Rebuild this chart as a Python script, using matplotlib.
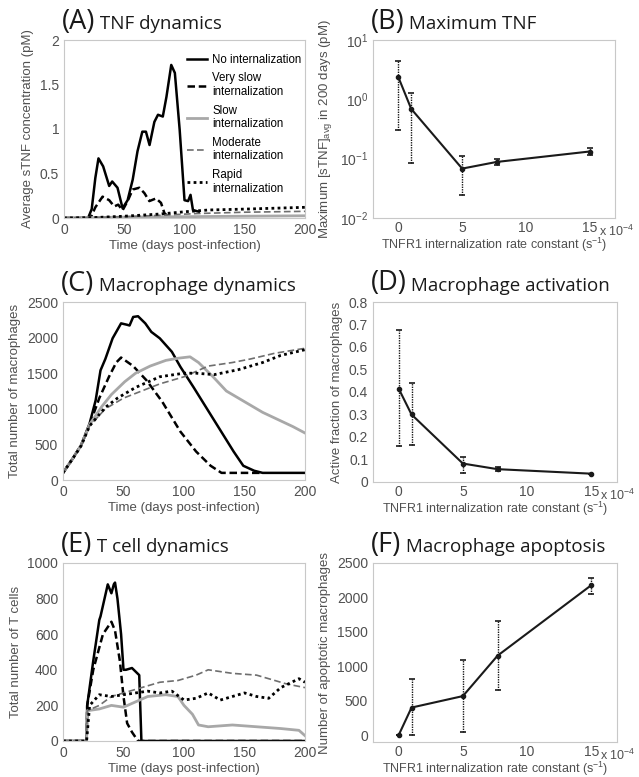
import matplotlib
matplotlib.use("Agg")
import matplotlib.pyplot as plt
import numpy as np

# ---------------- data ----------------
# (A) average sTNF concentration, pM
tnf_none_t = [0, 20, 23, 26, 28.6, 32.5, 37.5, 40, 44.4, 48.6, 52.8, 57, 61, 65, 68, 71, 75, 78, 82, 85, 89, 92, 96, 100, 103, 105, 107, 112]
tnf_none_y = [0, 0, 0.1, 0.45, 0.67, 0.58, 0.36, 0.41, 0.34, 0.11, 0.2, 0.43, 0.75, 0.97, 0.97, 0.82, 1.08, 1.16, 1.14, 1.36, 1.72, 1.63, 0.99, 0.2, 0.19, 0.26, 0.09, 0.07]
tnf_vslow_t = [0, 22, 26, 32, 37.5, 41.7, 45, 48.6, 52.8, 57, 62.5, 66.7, 70.8, 76.4, 80.5, 83.3, 86, 90, 110]
tnf_vslow_y = [0, 0, 0.12, 0.24, 0.2, 0.13, 0.15, 0.086, 0.19, 0.32, 0.34, 0.28, 0.19, 0.22, 0.17, 0.056, 0.02, 0.005, 0.0]
tnf_slow_t = [0, 25, 50, 100, 150, 200]
tnf_slow_y = [0, 0.005, 0.01, 0.015, 0.02, 0.025]
tnf_mod_t = [0, 25, 50, 80, 110, 150, 200]
tnf_mod_y = [0, 0.005, 0.015, 0.03, 0.05, 0.065, 0.075]
tnf_rapid_t = [0, 25, 50, 80, 100, 120, 150, 200]
tnf_rapid_y = [0, 0.005, 0.02, 0.045, 0.07, 0.09, 0.1, 0.12]

# (C) total macrophages
mac_none_t = [0, 8, 15, 22, 27, 31, 35, 41, 48, 53, 55, 58, 62, 68, 73, 80, 90, 97, 108, 119, 130, 141, 149, 158, 165, 200]
mac_none_y = [100, 300, 490, 795, 1120, 1540, 1700, 1990, 2200, 2180, 2170, 2290, 2300, 2200, 2080, 1990, 1800, 1590, 1300, 1000, 700, 400, 200, 130, 100, 100]
mac_vslow_t = [0, 8, 15, 22, 30, 38, 44, 48, 58, 69, 82, 97, 110, 122, 131, 165]
mac_vslow_y = [100, 300, 490, 780, 1150, 1450, 1650, 1720, 1600, 1400, 1100, 680, 400, 200, 100, 100]
mac_slow_t = [0, 8, 15, 22, 32, 40, 51, 60, 72, 85, 95, 105, 112, 124, 135, 150, 165, 180, 190, 200]
mac_slow_y = [100, 300, 490, 780, 1030, 1200, 1380, 1500, 1600, 1680, 1710, 1730, 1650, 1450, 1250, 1100, 950, 830, 750, 660]
mac_mod_t = [0, 8, 15, 22, 35, 50, 65, 80, 100, 120, 140, 155, 175, 200]
mac_mod_y = [100, 300, 480, 760, 1000, 1150, 1250, 1350, 1450, 1600, 1650, 1700, 1780, 1850]
mac_rapid_t = [0, 8, 15, 22, 35, 45, 60, 80, 100, 110, 125, 145, 165, 180, 200]
mac_rapid_y = [100, 300, 480, 760, 1020, 1150, 1300, 1450, 1500, 1500, 1480, 1550, 1650, 1750, 1830]

# (E) total T cells
tc_none_t = [0, 19.5, 20, 25, 30, 31, 36, 37, 40, 42, 43, 45, 48, 50, 52, 57, 60, 63, 64.8, 200]
tc_none_y = [0, 0, 200, 450, 680, 700, 850, 880, 830, 880, 890, 800, 600, 400, 400, 410, 390, 370, 0, 0]
tc_vslow_t = [0, 19.5, 20, 25, 33, 37, 40, 43, 47, 50, 53, 57, 60, 62, 200]
tc_vslow_y = [0, 0, 200, 400, 600, 640, 670, 620, 450, 250, 100, 50, 20, 0, 0]
tc_slow_t = [0, 19.5, 20, 30, 40, 50, 60, 70, 85, 95, 100, 107, 112, 120, 140, 160, 180, 195, 200]
tc_slow_y = [0, 0, 170, 180, 200, 190, 220, 250, 260, 250, 200, 150, 90, 80, 90, 80, 70, 60, 30]
tc_mod_t = [0, 19.5, 20, 30, 40, 55, 65, 80, 95, 110, 120, 130, 140, 160, 170, 185, 200]
tc_mod_y = [0, 0, 170, 200, 250, 280, 300, 330, 340, 370, 400, 390, 380, 370, 350, 320, 300]
tc_rapid_t = [0, 19.5, 22, 30, 40, 50, 60, 70, 80, 90, 100, 110, 120, 130, 140, 150, 160, 170, 180, 195, 200]
tc_rapid_y = [0, 0, 200, 260, 250, 260, 270, 280, 270, 280, 230, 240, 270, 230, 250, 270, 250, 240, 300, 350, 330]

# (B), (D), (F) vs internalization rate constant (x 1e-4 s^-1)
kint = [0, 1, 5, 7.7, 15]
max_tnf = [2.34, 0.69, 0.068, 0.088, 0.132]
max_tnf_lo = [0.31, 0.085, 0.024, 0.077, 0.114]
max_tnf_hi = [4.5, 1.28, 0.111, 0.10, 0.15]
act_frac = [0.415, 0.30, 0.082, 0.057, 0.037]
act_frac_lo = [0.161, 0.164, 0.04, 0.048, 0.037]
act_frac_hi = [0.675, 0.44, 0.112, 0.067, 0.037]
apopt = [0, 400, 567, 1154, 2178]
apopt_lo = [0, 0, 38, 649, 2048]
apopt_hi = [0, 808, 1087, 1663, 2288]

labels = ["No internalization", "Very slow\ninternalization", "Slow\ninternalization",
          "Moderate\ninternalization", "Rapid\ninternalization"]

# ---------------- styling ----------------
plt.rcParams['font.family'] = ['Liberation Sans', 'DejaVu Sans']
plt.rcParams['mathtext.fontset'] = 'custom'
plt.rcParams['mathtext.rm'] = 'Liberation Sans'
plt.rcParams['mathtext.it'] = 'Liberation Sans:italic'
tick_col = '#505050'
frame_col = '#c8c8c8'
fs = 10

styles = [
    dict(color='black', lw=1.8, ls='-'),
    dict(color='black', lw=1.8, ls=(0, (3, 1.5))),
    dict(color='#a8a8a8', lw=2.0, ls='-'),
    dict(color='#6e6e6e', lw=1.2, ls=(0, (4, 2))),
    dict(color='black', lw=2.0, ls=(0, (1, 1.2))),
]

fig = plt.figure(figsize=(6.39, 7.77), dpi=100)
W, H = 639.0, 777.0


def make_ax(left, right, top, bottom):
    ax = fig.add_axes([left / W, 1 - bottom / H, (right - left) / W, (bottom - top) / H])
    for s in ax.spines.values():
        s.set_color(frame_col)
        s.set_linewidth(0.8)
    ax.tick_params(length=0, labelsize=fs, colors=tick_col, pad=3.5)
    return ax


def title(ax, letter, text):
    t1 = ax.text(-0.01, 1.025, letter, transform=ax.transAxes, fontsize=19.5,
                 family='Open Sans', color='#1a1a1a', va='bottom', ha='left')
    ax.annotate(" " + text, xy=(1, 0.1), xycoords=t1, fontsize=13.5,
                family='Open Sans', color='#1a1a1a', va='bottom', ha='left')


def rate_axis(ax):
    ax.set_xlim(-2, 17)
    ax.set_xticks([0, 5, 10, 15])
    ax.tick_params(axis='x', pad=2.5)
    ax.set_xlabel("TNFR1 internalization rate constant (s$^{\\mathregular{-1}}$)", fontsize=9,
                  color=tick_col, labelpad=0)
    ax.text(0.932, -0.035, "x 10$^{\\mathregular{-4}}$", transform=ax.transAxes, fontsize=9,
            color=tick_col, va='top', ha='left')


def err_plot(ax, y, lo, hi):
    y = np.array(y)
    yerr = [y - np.array(lo), np.array(hi) - y]
    line, caps, bars = ax.errorbar(kint, y, yerr=yerr, color='#1a1a1a', lw=1.5,
                                   marker='o', ms=3, capsize=2.5, elinewidth=1.0,
                                   capthick=1.2)
    bars[0].set_linestyle((0, (1, 0.8)))


# (A) TNF dynamics
axA = make_ax(64, 305, 40, 218)
series = [(tnf_none_t, tnf_none_y), (tnf_vslow_t, tnf_vslow_y), (tnf_slow_t, tnf_slow_y),
          (tnf_mod_t, tnf_mod_y), (tnf_rapid_t, tnf_rapid_y)]
for (t, y), st, lab in zip(series, styles, labels):
    axA.plot(t, y, label=lab, **st)
axA.set_xlim(0, 200)
axA.set_ylim(0, 2)
axA.set_yticks([0, 0.5, 1, 1.5, 2])
axA.set_yticklabels(['0', '0.5', '1', '1.5', '2'])
axA.set_xticks([0, 50, 100, 150, 200])
axA.set_xlabel("Time (days post-infection)", fontsize=9.5, color=tick_col, labelpad=2)
axA.set_ylabel("Average sTNF concentration (pM)", fontsize=9.5, color=tick_col)
axA.legend(loc='upper right', bbox_to_anchor=(1.015, 0.96), frameon=False, fontsize=8.3,
           handlelength=1.7, handletextpad=0.5, labelspacing=0.55, borderaxespad=0.2)
title(axA, "(A)", "TNF dynamics")

# (B) Maximum TNF
axB = make_ax(373, 615, 40, 218)
err_plot(axB, max_tnf, max_tnf_lo, max_tnf_hi)
axB.set_yscale('log')
axB.set_ylim(1e-2, 1e1)
axB.minorticks_off()
axB.tick_params(which='both', length=0)
rate_axis(axB)
axB.set_ylabel("Maximum [sTNF]$_{\\mathregular{avg}}$ in 200 days (pM)", fontsize=9.5, color=tick_col)
title(axB, "(B)", "Maximum TNF")

# (C) Macrophage dynamics
axC = make_ax(63, 305, 302, 480)
series = [(mac_none_t, mac_none_y), (mac_vslow_t, mac_vslow_y), (mac_slow_t, mac_slow_y),
          (mac_mod_t, mac_mod_y), (mac_rapid_t, mac_rapid_y)]
for (t, y), st in zip(series, styles):
    axC.plot(t, y, **st)
axC.set_xlim(0, 200)
axC.set_ylim(0, 2500)
axC.set_xticks([0, 50, 100, 150, 200])
axC.set_xlabel("Time (days post-infection)", fontsize=9.5, color=tick_col, labelpad=2)
axC.set_ylabel("Total number of macrophages", fontsize=9.5, color=tick_col)
title(axC, "(C)", "Macrophage dynamics")

# (D) Macrophage activation
axD = make_ax(373, 617, 302, 482)
err_plot(axD, act_frac, act_frac_lo, act_frac_hi)
axD.set_ylim(0, 0.8)
axD.set_yticks(np.arange(0, 0.81, 0.1))
axD.set_yticklabels(['0', '0.1', '0.2', '0.3', '0.4', '0.5', '0.6', '0.7', '0.8'])
rate_axis(axD)
axD.set_ylabel("Active fraction of macrophages", fontsize=9.5, color=tick_col)
title(axD, "(D)", "Macrophage activation")

# (E) T cell dynamics
axE = make_ax(63, 305, 563, 741)
series = [(tc_none_t, tc_none_y), (tc_vslow_t, tc_vslow_y), (tc_slow_t, tc_slow_y),
          (tc_mod_t, tc_mod_y), (tc_rapid_t, tc_rapid_y)]
for (t, y), st in zip(series, styles):
    axE.plot(t, y, **st)
axE.set_xlim(0, 200)
axE.set_ylim(0, 1000)
axE.set_xticks([0, 50, 100, 150, 200])
axE.set_xlabel("Time (days post-infection)", fontsize=9.5, color=tick_col, labelpad=2)
axE.set_ylabel("Total number of T cells", fontsize=9.5, color=tick_col)
title(axE, "(E)", "T cell dynamics")

# (F) Macrophage apoptosis
axF = make_ax(373, 617, 563, 742)
err_plot(axF, apopt, apopt_lo, apopt_hi)
axF.set_ylim(-100, 2500)
axF.set_yticks([0, 500, 1000, 1500, 2000, 2500])
rate_axis(axF)
axF.set_ylabel("Number of apoptotic macrophages", fontsize=9.5, color=tick_col)
title(axF, "(F)", "Macrophage apoptosis")

fig.savefig("out.png", dpi=100)
